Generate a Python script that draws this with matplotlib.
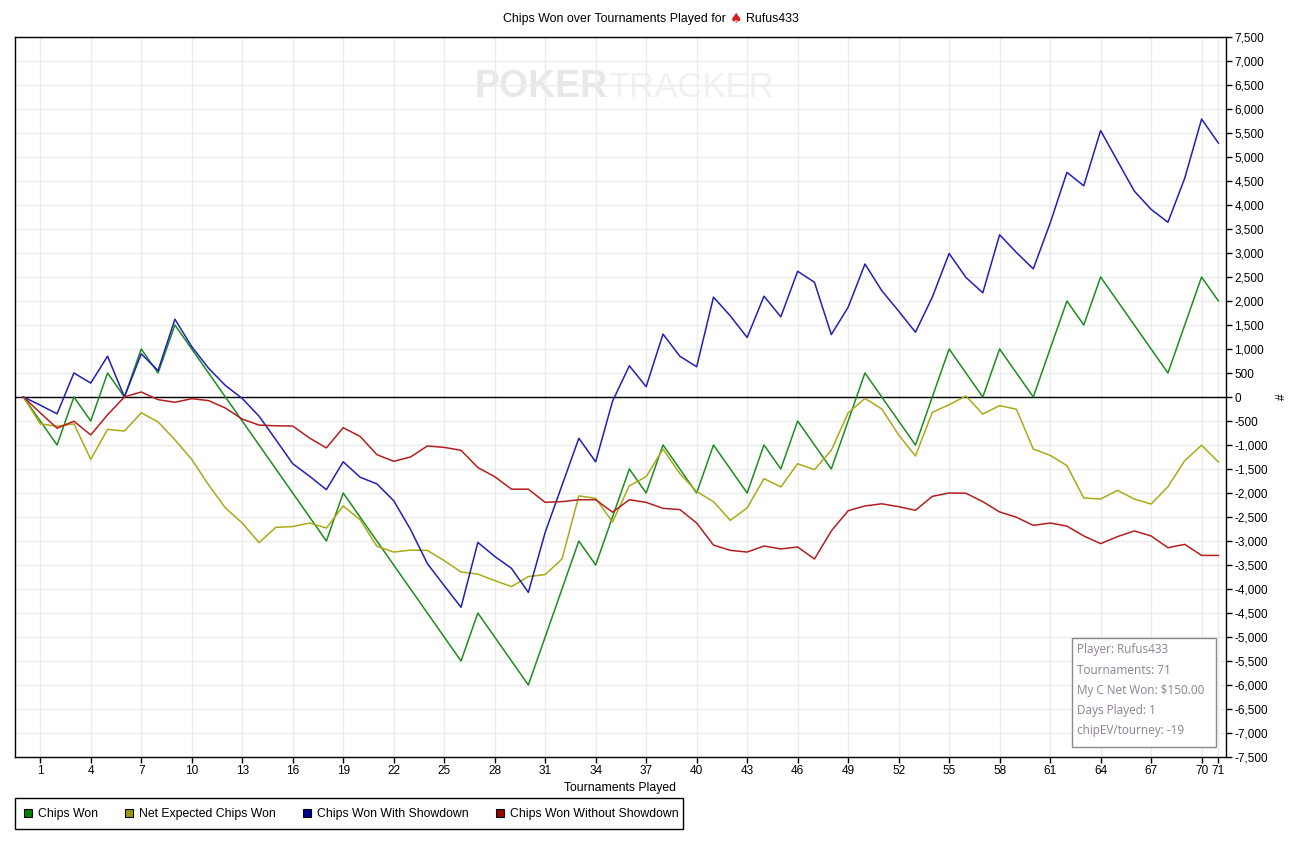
import matplotlib
matplotlib.use("Agg")
from matplotlib import pyplot as plt
from matplotlib.patches import Patch, Rectangle
from matplotlib.ticker import FuncFormatter

plt.rcParams['font.family'] = ['Liberation Sans', 'DejaVu Sans']

# tournaments 0..71
tourneys = list(range(72))

chips_won = [0, -500, -1000, 0, -500, 500, 0, 1000, 500, 1500,
             1000, 500, 0, -500, -1000, -1500, -2000, -2500, -3000, -2000,
             -2500, -3000, -3500, -4000, -4500, -5000, -5500, -4500, -5000, -5500,
             -6000, -5000, -4000, -3000, -3500, -2500, -1500, -2000, -1000, -1500,
             -2000, -1000, -1500, -2000, -1000, -1500, -500, -1000, -1500, -500,
             500, 0, -500, -1000, 0, 1000, 500, 0, 1000, 500,
             0, 1000, 2000, 1500, 2500, 2000, 1500, 1000, 500, 1500,
             2500, 2000]

net_expected = [0, -560, -610, -560, -1300, -675, -710, -330, -520, -890,
                -1300, -1830, -2310, -2625, -3035, -2715, -2700, -2625, -2730, -2270,
                -2555, -3110, -3230, -3190, -3195, -3410, -3645, -3690, -3825, -3950,
                -3740, -3700, -3375, -2060, -2110, -2605, -1850, -1660, -1085, -1595,
                -1970, -2180, -2570, -2310, -1700, -1875, -1390, -1515, -1110, -330,
                -30, -250, -790, -1230, -320, -160, 20, -355, -180, -255,
                -1085, -1215, -1430, -2105, -2125, -1945, -2125, -2230, -1870, -1325,
                -1005, -1355]

with_showdown = [0, -170, -350, 500, 290, 850, 0, 900, 550, 1620,
                 1050, 600, 240, -30, -400, -890, -1390, -1650, -1930, -1350,
                 -1670, -1810, -2160, -2760, -3470, -3930, -4380, -3030, -3320, -3570,
                 -4070, -2820, -1840, -860, -1350, -90, 650, 215, 1310, 850,
                 630, 2080, 1690, 1240, 2100, 1670, 2620, 2390, 1300, 1870,
                 2770, 2215, 1790, 1350, 2080, 2990, 2490, 2170, 3380, 3010,
                 2670, 3620, 4680, 4400, 5550, 4920, 4290, 3910, 3640, 4560,
                 5790, 5290]

without_showdown = [0, -330, -650, -505, -790, -370, 0, 105, -55, -110,
                    -35, -75, -230, -460, -585, -600, -605, -855, -1060, -640,
                    -820, -1200, -1340, -1250, -1020, -1050, -1110, -1470, -1660, -1920,
                    -1920, -2195, -2180, -2140, -2140, -2400, -2140, -2195, -2320, -2345,
                    -2625, -3085, -3195, -3230, -3105, -3165, -3125, -3375, -2790, -2370,
                    -2270, -2225, -2285, -2360, -2070, -2000, -2005, -2180, -2395, -2505,
                    -2675, -2625, -2690, -2895, -3055, -2910, -2790, -2895, -3140, -3070,
                    -3300, -3300]

series_names = ['Chips Won', 'Net Expected Chips Won',
                'Chips Won With Showdown', 'Chips Won Without Showdown']
x_ticks = list(range(1, 71, 3)) + [71]

stats_lines = ['Player: Rufus433', 'Tournaments: 71', 'My C Net Won: $150.00',
               'Days Played: 1', 'chipEV/tourney: -19']

line_colors = ['#1e8c1e', '#aaaa18', '#2020b4', '#b41e1e']
box_colors = ['#008000', '#999900', '#000099', '#990000']

W, H = 1302, 848
fig = plt.figure(figsize=(W / 100, H / 100), dpi=100)
ax = fig.add_axes([15 / W, 1 - 757 / H, (1226 - 15) / W, (757 - 37) / H])

# watermark
ax.text(0.4895, 0.93, 'POKER', transform=ax.transAxes, ha='right', va='center',
        fontsize=27, fontweight='bold', color='#e8e8e8', zorder=0.5)
ax.text(0.4895, 0.93, 'TRACKER', transform=ax.transAxes, ha='left', va='center',
        fontsize=25, color='#f1f1f1', zorder=0.5)

for vals, c in zip([chips_won, net_expected, with_showdown, without_showdown], line_colors):
    ax.plot(tourneys, vals, color=c, lw=1.1, zorder=3)

ax.axhline(0, color='black', lw=1, zorder=2)

ax.set_xlim(-0.5, 71.45)
ax.set_ylim(-7500, 7500)
ax.set_xticks(x_ticks)
ax.set_yticks(range(-7500, 7501, 500))
ax.yaxis.set_major_formatter(FuncFormatter(lambda v, p: f'{int(v):,}'))
ax.yaxis.tick_right()
ax.tick_params(axis='both', direction='out', length=4, width=1, labelsize=8.5,
               color='black', pad=2)
ax.grid(True, color='#ebebeb', lw=1, zorder=0)
ax.set_axisbelow(True)
for s in ax.spines.values():
    s.set_color('black')
    s.set_linewidth(1)

ax.set_xlabel('Tournaments Played', fontsize=8.8, labelpad=3)
fig.text(1282 / W, 1 - 397 / H, '#', rotation=90, ha='center', va='center',
         fontsize=8.5)

# title with red spade
fig.text(726 / W, 1 - 19 / H, 'Chips Won over Tournaments Played for', ha='right',
         va='center', fontsize=8.9)
fig.text(736 / W, 1 - 19 / H, '\u2660', ha='center', va='center', fontsize=10,
         color='#d42020', family='DejaVu Sans')
fig.text(746 / W, 1 - 19 / H, 'Rufus433', ha='left', va='center', fontsize=8.9)

# legend (frame drawn separately)
fig.patches.append(Rectangle((15 / W, 1 - 829 / H), 668 / W, 31 / H,
                             transform=fig.transFigure, facecolor='white',
                             edgecolor='black', lw=1, zorder=1))
handles = [Patch(facecolor=c, edgecolor='black', lw=0.8) for c in box_colors]
leg = fig.legend(handles, series_names, loc='center left', ncol=4,
                 bbox_to_anchor=(24 / W, 1 - 814 / H),
                 fontsize=8.8, frameon=False, handlelength=0.62,
                 handleheight=0.62, handletextpad=0.5, columnspacing=2.25,
                 borderpad=0, borderaxespad=0)
leg.set_zorder(2)

# stats box
fig.patches.append(Rectangle((1072 / W, 1 - 747 / H), 144 / W, 109 / H,
                             transform=fig.transFigure, facecolor='white',
                             edgecolor='#8a8a8a', lw=1, zorder=5))
for i, t in enumerate(stats_lines):
    fig.text(1077 / W, 1 - (650 + i * 20.2) / H, t, ha='left', va='center',
             fontsize=8.5, color='#8c8090', family=['Open Sans', 'DejaVu Sans'],
             zorder=6)

fig.savefig('out.png', dpi=100)
